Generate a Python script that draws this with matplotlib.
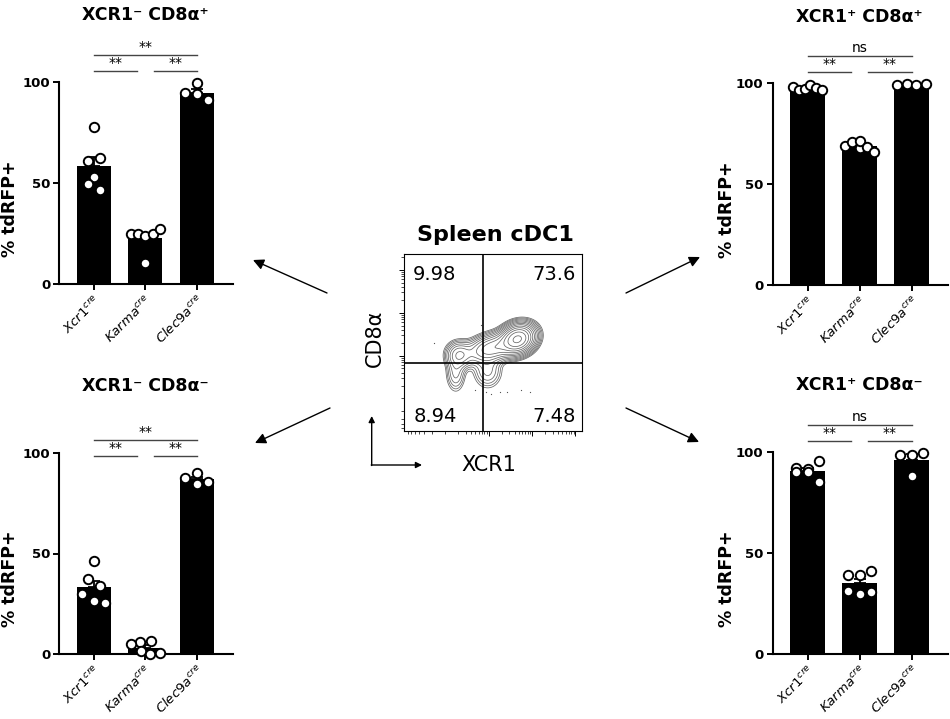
import numpy as np
import matplotlib
matplotlib.use('Agg')
import matplotlib.pyplot as plt
from matplotlib.transforms import blended_transform_factory

plt.rcParams['font.family'] = ['DejaVu Sans']
plt.rcParams['mathtext.fontset'] = 'dejavusans'

# ---- data ----
groups = ['Xcr1', 'Karma', 'Clec9a']
tick_labels = [r'$\mathit{Xcr1}^{\mathit{cre}}$',
               r'$\mathit{Karma}^{\mathit{cre}}$',
               r'$\mathit{Clec9a}^{\mathit{cre}}$']

# XCR1- CD8a+
negpos_xcr1 = [77.6, 61.0, 62.2, 53.1, 49.7, 46.5]
negpos_karma = [24.8, 24.8, 23.8, 24.8, 27.1, 10.2]
negpos_clec9a = [99.5, 94.5, 93.9, 91.1]
# XCR1+ CD8a+
pospos_xcr1 = [98.0, 96.8, 97.2, 99.4, 97.8, 96.5]
pospos_karma = [69.0, 71.0, 68.0, 71.5, 68.5, 66.0]
pospos_clec9a = [99.3, 99.5, 99.4, 99.6]
# XCR1- CD8a-
negneg_xcr1 = [46.4, 37.2, 34.0, 29.9, 26.6, 25.6]
negneg_karma = [5.9, 6.6, 5.0, 1.5, 0.0, 0.8]
negneg_clec9a = [87.6, 84.3, 85.3, 90.1]
# XCR1+ CD8a-
posneg_xcr1 = [92.1, 90.1, 91.3, 90.1, 95.4, 85.2]
posneg_karma = [39.1, 39.1, 41.3, 31.4, 29.8, 30.8]
posneg_clec9a = [98.4, 98.4, 99.5, 88.2]

sig_negpos = ['**', '**', '**']   # left pair, right pair, outer
sig_pospos = ['**', '**', 'ns']
sig_negneg = ['**', '**', '**']
sig_posneg = ['**', '**', 'ns']

# flow plot: quadrant frequencies and population blobs (axis fraction units)
quad_freq = ['9.98', '73.6', '8.94', '7.48']   # UL, UR, LL, LR
pop_cx = [0.64, 0.50, 0.31, 0.29, 0.47]
pop_cy = [0.52, 0.47, 0.43, 0.33, 0.34]
pop_sx = [0.050, 0.080, 0.040, 0.030, 0.045]
pop_sy = [0.040, 0.040, 0.040, 0.060, 0.055]
pop_ang = [25, 15, 0, 0, 0]
pop_w = [1.0, 0.30, 0.15, 0.06, 0.06]
ev_x = [0.17, 0.43, 0.40, 0.46, 0.49, 0.54, 0.58, 0.66, 0.71]
ev_y = [0.50, 0.60, 0.23, 0.22, 0.21, 0.22, 0.22, 0.23, 0.22]

W, H = 950, 719
fig = plt.figure(figsize=(W / 100, H / 100), dpi=100)

# background axes in pixel coords for the arrows
ax_bg = fig.add_axes([0, 0, 1, 1])
ax_bg.set_xlim(0, W)
ax_bg.set_ylim(H, 0)
ax_bg.axis('off')


def px_axes(left, top, right, bottom):
    return fig.add_axes([left / W, 1 - bottom / H, (right - left) / W, (bottom - top) / H])


def scatter_rows(vals, px_x, px_y, row_px=11.0):
    # group points of similar height into rows, spread each row sideways
    order = np.argsort(vals, kind='stable')
    offs = np.zeros(len(vals))
    rows = []
    for i in order:
        if rows and vals[i] * px_y - vals[rows[-1][0]] * px_y < row_px:
            rows[-1].append(i)
        else:
            rows.append([i])
    for r in rows:
        r = sorted(r)
        n = len(r)
        step = 11.5 if n < 2 else min(11.5, 29.0 / (n - 1))
        for j, i in enumerate(r):
            offs[i] = (j - (n - 1) / 2) * step / px_x
    return offs


XLIM = (-0.67, 2.7)


def bar_panel(ax, vals, sig, low, high, title, ylab_x):
    x = np.arange(len(vals))
    means = [np.mean(v) for v in vals]
    sems = [np.std(v, ddof=1) / np.sqrt(len(v)) for v in vals]
    ax.bar(x, means, width=0.66, color='black', zorder=2)
    ax.errorbar(x, means, yerr=[np.zeros(len(vals)), sems], fmt='none',
                ecolor='black', elinewidth=1.3, capsize=4, capthick=1.3, zorder=3)

    bb = ax.get_position()
    px_x = bb.width * W / (XLIM[1] - XLIM[0])
    px_y = bb.height * H / 100
    for i, v in enumerate(vals):
        offs = scatter_rows(np.array(v), px_x, px_y)
        ax.scatter(i + offs, v, s=46, facecolor='white', edgecolor='black',
                   linewidth=1.4, zorder=4, clip_on=False)

    ax.set_xlim(*XLIM)
    ax.set_ylim(0, 100)
    ax.spines[['top', 'right']].set_visible(False)
    for s in ['left', 'bottom']:
        ax.spines[s].set_linewidth(1.5)
    ax.set_yticks([0, 50, 100])
    ax.set_xticks(x)
    ax.set_xticklabels(tick_labels, rotation=45, ha='right',
                       rotation_mode='anchor', fontsize=9.5)
    ax.tick_params(axis='both', length=4.5, width=1.4, pad=2)
    ax.tick_params(axis='y', labelsize=9.5)
    for lab in ax.get_yticklabels():
        lab.set_fontweight('bold')

    # significance brackets
    segs = [(0, 0.83, low), (1.16, 2, low), (0, 2, high)]
    for (x0, x1, y), lab in zip(segs, sig):
        ax.plot([x0, x1], [y, y], color='#444444', lw=1, clip_on=False)
        ax.text((x0 + x1) / 2, y + 0.5, lab, ha='center', va='bottom',
                fontsize=10, clip_on=False)

    tr = blended_transform_factory(ax.transData, ax.transAxes)
    ax.text(1, 1.33, title, transform=tr, ha='center', va='center',
            fontsize=12.5, fontweight='bold')
    ax.text(ylab_x, 0.375, '% tdRFP+', transform=ax.transAxes, rotation=90,
            ha='center', va='center', fontsize=12.5, fontweight='bold')


ax_tl = px_axes(59.3, 82, 233, 284)
bar_panel(ax_tl, [negpos_xcr1, negpos_karma, negpos_clec9a], sig_negpos,
          105.5, 113.3, 'XCR1⁻ CD8α⁺', -0.284)

ax_bl = px_axes(59.3, 452.7, 233, 654.3)
bar_panel(ax_bl, [negneg_xcr1, negneg_karma, negneg_clec9a], sig_negneg,
          98.5, 106.3, 'XCR1⁻ CD8α⁻', -0.284)

ax_tr = px_axes(772.7, 83.3, 948, 285)
bar_panel(ax_tr, [pospos_xcr1, pospos_karma, pospos_clec9a], sig_pospos,
          105.5, 113.5, 'XCR1⁺ CD8α⁺', -0.26)

ax_br = px_axes(772.7, 451.7, 948, 654.3)
bar_panel(ax_br, [posneg_xcr1, posneg_karma, posneg_clec9a], sig_posneg,
          105.4, 113.2, 'XCR1⁺ CD8α⁻', -0.26)

# ---- central flow cytometry plot ----
ax_f = px_axes(404.3, 254.3, 581.7, 430.7)
gx, gy = np.meshgrid(np.linspace(0, 1, 300), np.linspace(0, 1, 300))
dens = np.zeros_like(gx)
for cx, cy, sx, sy, ang, w in zip(pop_cx, pop_cy, pop_sx, pop_sy, pop_ang, pop_w):
    t = np.deg2rad(ang)
    u = (gx - cx) * np.cos(t) + (gy - cy) * np.sin(t)
    v = -(gx - cx) * np.sin(t) + (gy - cy) * np.cos(t)
    dens += w * np.exp(-0.5 * ((u / sx) ** 2 + (v / sy) ** 2))
levels = dens.max() * np.geomspace(0.012, 0.9, 13)
ax_f.contour(gx, gy, dens, levels=levels, colors='#666666', linewidths=0.55)
ax_f.scatter(ev_x, ev_y, s=0.8, color='#505050', linewidths=0)
ax_f.axvline(0.442, color='black', lw=1.2)
ax_f.axhline(0.382, color='black', lw=1.2)
ax_f.set_xlim(0, 1)
ax_f.set_ylim(0, 1)
for s in ax_f.spines.values():
    s.set_linewidth(0.8)


def log_ticks(origin, dec, n_up):
    major = [origin + dec * k for k in range(1, n_up + 1)]
    minor = []
    for d in [origin] + major:
        minor += [d + dec * np.log10(k) for k in range(2, 10)]
    minor += [origin - dec * np.log10(k) for k in range(2, 10)]
    minor += [origin]
    minor = [m for m in minor if 0.01 < m < 0.99]
    major = [m for m in major if m < 0.99]
    return major, minor


ymaj, ymin = log_ticks(0.183, 0.243, 3)
xmaj, xmin = log_ticks(0.23, 0.245, 3)
ax_f.set_yticks(ymaj)
ax_f.set_yticks(ymin, minor=True)
ax_f.set_xticks(xmaj)
ax_f.set_xticks(xmin, minor=True)
ax_f.tick_params(which='major', length=3.5, width=0.7, labelleft=False, labelbottom=False)
ax_f.tick_params(which='minor', length=2, width=0.5)

qpos = [(0.05, 0.883, 'left'), (0.968, 0.883, 'right'),
        (0.05, 0.08, 'left'), (0.968, 0.08, 'right')]
for (qx, qy, ha), txt in zip(qpos, quad_freq):
    ax_f.text(qx, qy, txt, transform=ax_f.transAxes, ha=ha, va='center', fontsize=14)

ax_f.text(0.511, 1.109, 'Spleen cDC1', transform=ax_f.transAxes, ha='center',
          va='center', fontsize=16, fontweight='bold')
ax_f.text(-0.165, 0.526, 'CD8α', transform=ax_f.transAxes, rotation=90,
          ha='center', va='center', fontsize=15)
ax_f.text(0.477, -0.194, 'XCR1', transform=ax_f.transAxes, ha='center',
          va='center', fontsize=15)

# ---- arrows ----
big = dict(arrowstyle='-|>', color='black', lw=1, mutation_scale=16, shrinkA=0, shrinkB=0)
small = dict(arrowstyle='-|>', color='black', lw=1, mutation_scale=9, shrinkA=0, shrinkB=0)
for tail, head in [((327, 293), (253, 260)), ((626, 293), (700, 257)),
                   ((330, 408), (255, 443)), ((626, 408), (699, 442))]:
    ax_bg.annotate('', xy=head, xytext=tail, arrowprops=big)
ax_bg.annotate('', xy=(371.7, 416), xytext=(371.7, 465.5), arrowprops=small)
ax_bg.annotate('', xy=(422, 465), xytext=(371.2, 465), arrowprops=small)

fig.savefig('out.png', dpi=100)
